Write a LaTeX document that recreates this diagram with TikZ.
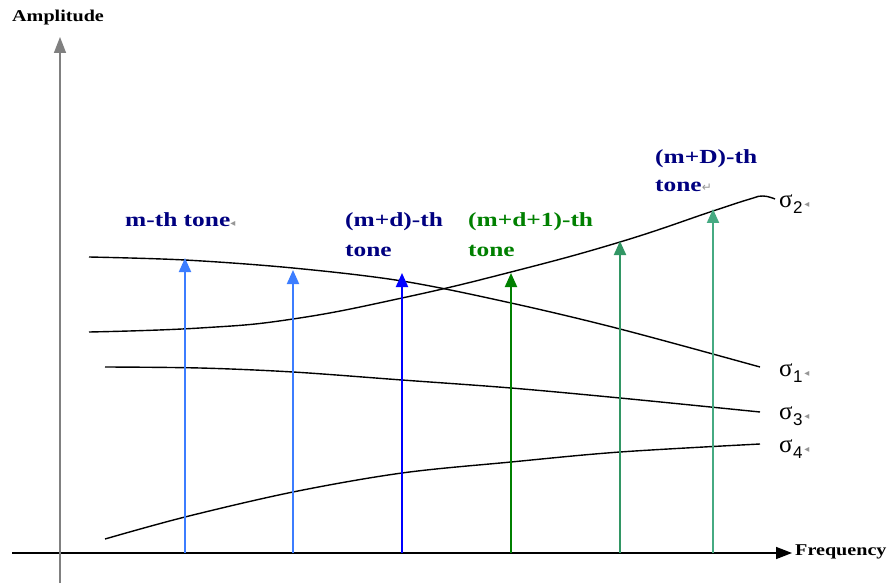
\documentclass[tikz,border=0pt]{standalone}
\usepackage{fontspec}
\setmainfont{Liberation Serif}
\newfontfamily\marksfont{DejaVu Sans}
\newfontfamily\sigfont{Liberation Sans}
\usetikzlibrary{arrows.meta}
\definecolor{navytxt}{RGB}{0,0,128}
\definecolor{greentxt}{RGB}{0,128,0}
\definecolor{lblue}{RGB}{60,125,255}
\definecolor{dblue}{RGB}{0,0,255}
\definecolor{dgreen}{RGB}{0,128,0}
\definecolor{sgreen}{RGB}{50,150,100}
\definecolor{tgreen}{RGB}{70,170,130}
\definecolor{markgrey}{RGB}{150,150,150}
\newcommand\tonelbl[1]{\scalebox{1.27}[1]{\bfseries #1}}
\newcommand\axlbl[1]{\scalebox{1.22}[1]{\bfseries #1}}
\newcommand\sigmalbl[1]{{\fontsize{25}{25}\selectfont σ}\kern0.5pt\raisebox{-6pt}{\sigfont\fontsize{17}{17}\selectfont #1}}
\newcommand\pmark{{\marksfont\fontsize{10}{10}\selectfont\color{markgrey}◂}}
\begin{document}
\begin{tikzpicture}[x=1pt,y=-1pt,
  curve/.style={line width=1.4pt,black},
  tonearrow/.style={line width=2pt,-{Triangle[length=14pt,width=12pt]}},
  axis/.style={line width=1.5pt,-{Triangle[length=16pt,width=12pt]}},
  tonetxt/.style={anchor=base west,inner sep=0pt,font=\fontsize{20}{24}\selectfont},
  axtxt/.style={anchor=base west,inner sep=0pt,font=\fontsize{16.5}{19}\selectfont},
  sigtxt/.style={anchor=west,inner sep=0pt}]
\useasboundingbox (0,0) rectangle (894,588);
% axes
\coordinate (xs) at (12,553);
\coordinate (xe) at (792,553);
\coordinate (ys) at (60,583);
\coordinate (ye) at (60,37);
\draw[axis,black] (xs) -- (xe);
\draw[axis,gray] (ys) -- (ye);
\node[axtxt] (amp) at (12,22) {\axlbl{Amplitude}};
\node[axtxt] (freq) at (795,555) {\axlbl{Frequency}};
% curves
\draw[curve] plot[smooth,tension=0.55] coordinates {(89,257) (185,260) (293,268) (402,281) (511,303) (620,329) (760,367)};
\draw[curve] plot[smooth,tension=0.75] coordinates {(89,332) (200,328) (293,319) (402,298) (511,272) (620,242) (713,211) (750,199) (763,196) (775,199)};
\draw[curve] plot[smooth,tension=0.55] coordinates {(105,367) (200,368) (293,372) (402,380) (511,388) (620,398) (760,412)};
\draw[curve] plot[smooth,tension=0.55] coordinates {(105,539) (185,517) (293,492) (402,473) (511,462) (620,452) (760,444)};
% tone arrows
\coordinate (b1) at (185,553); \coordinate (t1) at (185,258);
\coordinate (b2) at (293,553); \coordinate (t2) at (293,270);
\coordinate (b3) at (402,553); \coordinate (t3) at (402,273);
\coordinate (b4) at (511,553); \coordinate (t4) at (511,273);
\coordinate (b5) at (620,553); \coordinate (t5) at (620,241);
\coordinate (b6) at (713,553); \coordinate (t6) at (713,209);
\draw[tonearrow,lblue] (b1) -- (t1);
\draw[tonearrow,lblue] (b2) -- (t2);
\draw[tonearrow,dblue] (b3) -- (t3);
\draw[tonearrow,dgreen] (b4) -- (t4);
\draw[tonearrow,sgreen] (b5) -- (t5);
\draw[tonearrow,tgreen] (b6) -- (t6);
% tone labels
\node[tonetxt,text=navytxt] (mth) at (125,226) {\tonelbl{m-th tone}\pmark};
\node[tonetxt,text=navytxt] (mdA) at (345,226) {\tonelbl{(m+d)-th}};
\node[tonetxt,text=navytxt] (mdB) at (345,256) {\tonelbl{tone}};
\node[tonetxt,text=greentxt] (mdoA) at (468,226) {\tonelbl{(m+d+1)-th}};
\node[tonetxt,text=greentxt] (mdoB) at (468,256) {\tonelbl{tone}};
\node[tonetxt,text=navytxt] (mDA) at (655,164) {\tonelbl{(m+D)-th}};
\node[tonetxt,text=navytxt] (mDB) at (655,192) {\tonelbl{tone}{\marksfont\fontsize{12}{12}\selectfont\color{markgrey}↵}};
% sigma labels
\node[sigtxt] (s2) at (779,204) {\sigmalbl{2}\,\pmark};
\node[sigtxt] (s1) at (779,373) {\sigmalbl{1}\,\pmark};
\node[sigtxt] (s3) at (779,416) {\sigmalbl{3}\,\pmark};
\node[sigtxt] (s4) at (779,449) {\sigmalbl{4}\,\pmark};
\end{tikzpicture}
\end{document}
